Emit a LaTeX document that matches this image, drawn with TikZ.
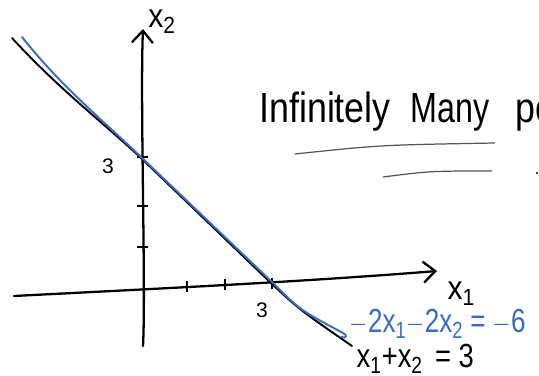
\documentclass[tikz,border=0pt]{standalone}
\usepackage{fontspec}
\setmainfont{Liberation Sans}
\usetikzlibrary{arrows.meta,positioning}
\definecolor{penblue}{HTML}{3A6BC2}
\definecolor{pengray}{HTML}{555555}
\tikzset{
  axisline/.style={
    line width=1.3pt,
    line cap=round,
    -{Straight Barb[length=2.4mm,width=4.2mm,line width=1.3pt]}
  },
  tickmark/.style={
    line width=0.9pt
  },
  sol1/.style={
    line width=1.1pt,
    line cap=round,
    draw=black
  },
  sol2/.style={
    line width=1.1pt,
    line cap=round,
    draw=penblue
  },
  inklabel/.style={
    font=\fontsize{19}{22}\selectfont,
    inner sep=1pt
  },
  bluelabel/.style={
    inklabel,
    text=penblue
  },
  noteword/.style={
    font=\fontsize{24}{28}\selectfont,
    anchor=base west,
    inner sep=0pt,
    xscale=0.85
  },
  underline/.style={
    line width=0.7pt,
    draw=pengray
  }
}
\newcommand{\sub}[1]{\textsubscript{#1}}

\begin{document}
\begin{tikzpicture}[x=0.02cm,y=-0.02cm]
    \useasboundingbox (0,0) rectangle (539,376);
    \clip (0,0) rectangle (539,376);

    % axes
    \coordinate (o) at (143,289);
    \coordinate (xstart) at (14,296);
    \coordinate (xend) at (437,271);
    \coordinate (ystart) at (143,346);
    \coordinate (yend) at (143,29);
    \draw[axisline] (xstart) .. controls (150,289) and (300,282) .. (xend);
    \draw[axisline] (ystart) .. controls (146,290) and (140,100) .. (yend);
    \node[inklabel, right=5pt of xend, yshift=-13pt, xscale=0.9] (xlab) {x\sub{1}};
    \node[inklabel, right=2pt of yend, yshift=4pt, xscale=0.9] (ylab) {x\sub{2}};

    % ticks
    \draw[tickmark] (187,281) -- (187,292);
    \draw[tickmark] (225,279) -- (225,290);
    \draw[tickmark] (272,278) -- (272,289);
    \draw[tickmark] (137,157) -- (148,157);
    \draw[tickmark] (137,206) -- (148,206);
    \draw[tickmark] (137,247) -- (148,247);
    \node[font=\large] (three1) at (108,166) {3};
    \node[font=\large] (three2) at (262,310) {3};

    % the two lines
    \coordinate (a1) at (12,38);
    \coordinate (a2) at (352,346);
    \coordinate (b1) at (22,37);
    \coordinate (b2) at (343,333);
    \draw[sol1] (a1) .. controls (60,90) and (100,120) .. (140,157) -- (272,284) .. controls (300,310) .. (a2);
    \draw[sol2] (b1) .. controls (60,85) and (100,118) .. (140,156) -- (273,283) .. controls (300,310) .. (b2) .. controls (348,335) and (346,339) .. (341,337);

    \node[bluelabel, anchor=west, xscale=0.78] (eq2) at (348,324) {$-$2x\sub{1}$-$2x\sub{2} = $-$6};
    \node[inklabel, anchor=west, xscale=0.82] (eq1) at (355,359) {x\sub{1}+x\sub{2} \,= 3};

    % note
    \node[noteword] (w1) at (259,122) {Infinitely};
    \node[noteword, xscale=0.9] (w2) at (410,122) {Many};
    \node[noteword] (w3) at (515,122) {po};
    \draw[underline] (295,154) .. controls (380,145) .. (495,143);
    \draw[underline] (383,177) .. controls (430,171) .. (492,171);
    \fill (537,173) circle (1.2);
\end{tikzpicture}
\end{document}
